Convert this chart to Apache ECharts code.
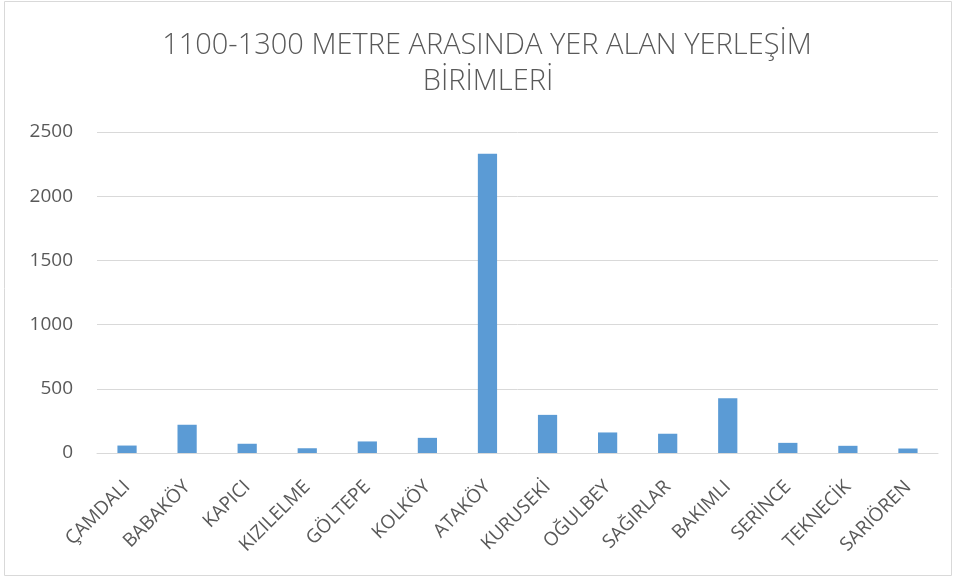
<!DOCTYPE html>
<html><head><meta charset="utf-8">
<script src="https://cdn.jsdelivr.net/npm/echarts@6/dist/echarts.min.js"></script>
<style>html,body{margin:0;padding:0;background:#fff}#c{width:956px;height:578px}</style>
</head><body><div id="c"></div>
<script>
const categories = ['ÇAMDALI','BABAKÖY','KAPICI','KIZILELME','GÖLTEPE','KOLKÖY','ATAKÖY','KURUSEKİ','OĞULBEY','SAĞIRLAR','BAKIMLI','SERİNCE','TEKNECİK','SARIÖREN'];
const values = [58, 220, 72, 37, 90, 118, 2330, 297, 160, 150, 427, 79, 56, 35];
const yTicks = [0, 500, 1000, 1500, 2000, 2500];
const titleLines = ['1100-1300 METRE ARASINDA YER ALAN YERLEŞİM', 'BİRİMLERİ'];

const titleFont = {fontFamily:'Open Sans', fontWeight:300, fontSize:29, fill:'#595959', textAlign:'center', textVerticalAlign:'middle'};
const chart = echarts.init(document.getElementById('c'));
chart.setOption({
  animation: false,
  graphic: [
    {type:'rect', shape:{x:4.5,y:1.5,width:947,height:574}, style:{fill:'none', stroke:'#d9d9d9', lineWidth:1}},
    {type:'text', x:487, y:46, style:Object.assign({text:titleLines[0]}, titleFont)},
    {type:'text', x:488, y:82, style:Object.assign({text:titleLines[1]}, titleFont)}
  ],
  grid: {left: 97, right: 18, top: 132, bottom: 125},
  xAxis: {type:'category', data: categories,
    axisLine:{lineStyle:{color:'#d9d9d9'}}, axisTick:{show:false},
    axisLabel:{rotate:45, interval:0, fontFamily:'Open Sans', fontSize:19, color:'#595959', margin:31}},
  yAxis: {type:'value', min: yTicks[0], max: yTicks[yTicks.length-1], interval: 500,
    axisLine:{show:false}, axisTick:{show:false},
    splitLine:{lineStyle:{color:'#d9d9d9', width:1}},
    axisLabel:{fontFamily:'Open Sans', fontSize:19, color:'#595959', margin:24, formatter: v => String(v)}},
  series: [{type:'bar', data: values, barWidth:'32%', itemStyle:{color:'#5b9bd5'}}]
});
</script></body></html>
